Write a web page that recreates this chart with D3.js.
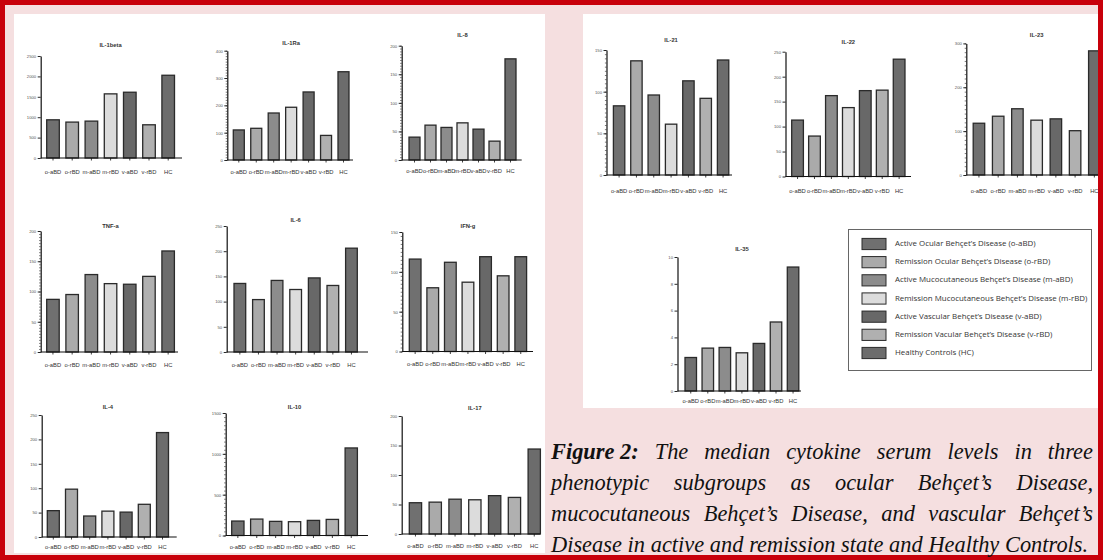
<!DOCTYPE html>
<html><head><meta charset="utf-8">
<script src="https://cdn.jsdelivr.net/npm/d3@7"></script>
<style>body{margin:0;background:#f5dfe0;} svg{display:block}</style>
</head><body><svg id="c" width="1103" height="560"></svg>
<script>
// ---------------- DATA ----------------
const categories = ["o-aBD","o-rBD","m-aBD","m-rBD","v-aBD","v-rBD","HC"];
const legendLabels = [
  "Active Ocular Behçet’s Disease (o-aBD)",
  "Remission Ocular Behçet’s Disease (o-rBD)",
  "Active Mucocutaneous Behçet’s Disease (m-aBD)",
  "Remission Mucocutaneous Behçet’s Disease (m-rBD)",
  "Active Vascular Behçet’s Disease (v-aBD)",
  "Remission Vacular Behçet’s Disease (v-rBD)",
  "Healthy Controls (HC)"
];
const titles = ["IL-1beta","IL-1Ra","IL-8","TNF-a","IL-6","IFN-g","IL-4","IL-10","IL-17","IL-21","IL-22","IL-23","IL-35"];

const il1beta = [936, 880, 904, 1572, 1612, 814, 2028];
const il1ra   = [110, 116, 172, 193, 249, 90, 323];
const il8     = [40, 61, 57, 65, 54, 33, 177];
const tnfa    = [87, 95, 128, 113, 112, 125, 167];
const il6     = [136, 104, 142, 124, 147, 132, 206];
const ifng    = [116, 80, 112, 87, 119, 95, 119];
const il4     = [54, 98, 43, 53, 51, 67, 214];
const il10    = [177, 201, 173, 169, 185, 197, 1072];
const il17    = [53, 54, 59, 58, 65, 62, 144];
const il21    = [83, 137, 96, 61, 113, 92, 138];
const il22    = [113, 81, 162, 138, 172, 173, 235];
const il23    = [118, 134, 151, 125, 128, 101, 283];
const il35    = [2.5, 3.2, 3.25, 2.85, 3.55, 5.15, 9.25];

const il1betaTicks = [0, 500, 1000, 1500, 2000, 2500];
const il1raTicks   = [0, 100, 200, 300, 400];
const il8Ticks     = [0, 50, 100, 150, 200];
const tnfaTicks    = [0, 50, 100, 150, 200];
const il6Ticks     = [0, 50, 100, 150, 200, 250];
const ifngTicks    = [0, 50, 100, 150];
const il4Ticks     = [0, 50, 100, 150, 200, 250];
const il10Ticks    = [0, 500, 1000, 1500];
const il17Ticks    = [0, 50, 100, 150, 200];
const il21Ticks    = [0, 50, 100, 150];
const il22Ticks    = [0, 50, 100, 150, 200, 250];
const il23Ticks    = [0, 100, 200, 300];
const il35Ticks    = [0, 2, 4, 6, 8, 10];

const captionBold = "Figure 2:";
const captionLines = [
  "The median cytokine serum levels in three",
  "phenotypic subgroups as ocular Behçet’s Disease,",
  "mucocutaneous Behçet’s Disease, and vascular Behçet’s",
  "Disease in active and remission state and Healthy Controls."
];

// ---------------- STYLE / LAYOUT ----------------
const fills = ["#707070","#aaaaaa","#8c8c8c","#dcdcdc","#686868","#b0b0b0","#6c6c6c"];
const values = [il1beta, il1ra, il8, tnfa, il6, ifng, il4, il10, il17, il21, il22, il23, il35];
const ticks = [il1betaTicks, il1raTicks, il8Ticks, tnfaTicks, il6Ticks, ifngTicks, il4Ticks, il10Ticks, il17Ticks, il21Ticks, il22Ticks, il23Ticks, il35Ticks];
// axisX, yTop, yBot, barStart, step, width, axisEnd, titleY, labelY, minor per major
const layouts = [
  [40.7, 56, 158, 46.7, 19.2, 12.6, 182, 45, 172, 0],
  [227.3, 50.7, 160, 233.3, 17.45, 11, 353, 43.3, 172.3, 10],
  [401.7, 45.7, 160, 409, 16, 11, 521.7, 35, 171.7, 10],
  [40.7, 231, 352, 46.7, 19.2, 12.5, 178, 226, 365, 10],
  [226.7, 226, 352, 234, 18.6, 11.7, 368, 220, 365.5, 0],
  [402.3, 232, 351.5, 409.3, 17.6, 11.7, 533, 226, 364.8, 10],
  [41.7, 415, 537, 47.3, 18.2, 12, 176.7, 407, 547, 0],
  [225.7, 413, 535.5, 231.7, 18.9, 12.3, 368, 407, 547, 10],
  [401.7, 416, 534, 409.3, 19.8, 12.3, 540, 408, 546.5, 0],
  [606.5, 50, 175, 613.4, 17.33, 11.4, 732, 40, 191, 10],
  [785.5, 51.7, 176.5, 791.7, 16.93, 11.7, 911, 42.4, 191, 0],
  [966.3, 43.4, 175, 973.2, 19.23, 11.5, 1100, 35.5, 191, 10],
  [677.5, 257, 391, 685, 17.05, 11.5, 801, 249, 401.5, 0]
];

const svg = d3.select("#c");
const FONT = "'Liberation Sans', Arial, sans-serif";

svg.append("rect").attr("x",0).attr("y",0).attr("width",1103).attr("height",560).attr("fill","#f5dfe0");
svg.append("rect").attr("x",14).attr("y",14).attr("width",531).attr("height",539).attr("fill","#fff");
svg.append("rect").attr("x",583).attr("y",14).attr("width",517).attr("height",394).attr("fill","#fff");

values.forEach((vals, i) => {
  const [ax, yTop, yBot, barStart, step, w, axEnd, titleY, labelY, minorN] = layouts[i];
  const tk = ticks[i];
  const max = tk[tk.length - 1];
  const y = d3.scaleLinear().domain([0, max]).range([yBot, yTop]);
  const p = 1 - w / step;
  const r0 = barStart - p * step;
  const x = d3.scaleBand().domain(categories).range([r0, r0 + (7 + p) * step]).paddingInner(p).paddingOuter(p);
  const g = svg.append("g");

  if (minorN > 0) {
    const ms = (tk[1] - tk[0]) / minorN;
    const minor = d3.range(0, max + ms / 2, ms);
    g.append("g").attr("transform", `translate(${ax},0)`)
      .call(d3.axisLeft(y).tickValues(minor).tickSize(1.6).tickFormat(""))
      .call(s => s.select(".domain").remove())
      .call(s => s.selectAll("line").attr("stroke","#222").attr("stroke-width",0.6));
  }
  g.append("g").attr("transform", `translate(${ax},0)`)
    .call(d3.axisLeft(y).tickValues(tk).tickSize(3).tickPadding(1.5).tickSizeOuter(0).tickFormat(d3.format("d")))
    .call(s => s.select(".domain").attr("stroke","#111").attr("stroke-width",1.2))
    .call(s => s.selectAll("line").attr("stroke","#111").attr("stroke-width",0.9))
    .call(s => s.selectAll("text").attr("font-size",4.2).attr("font-family",FONT).attr("fill","#555"));

  g.selectAll("rect.bar").data(vals).join("rect")
    .attr("x", (d, j) => x(categories[j]))
    .attr("y", d => y(d))
    .attr("width", x.bandwidth())
    .attr("height", d => yBot - y(d))
    .attr("fill", (d, j) => fills[j])
    .attr("stroke", "#2a2a2a").attr("stroke-width", 1.3);

  g.append("line").attr("x1", ax).attr("x2", axEnd).attr("y1", yBot).attr("y2", yBot)
    .attr("stroke","#111").attr("stroke-width",1.2);
  g.append("g").attr("transform", `translate(0,${yBot})`)
    .call(d3.axisBottom(x).tickSize(2.5).tickFormat(""))
    .call(s => s.select(".domain").remove())
    .call(s => s.selectAll("line").attr("stroke","#111").attr("stroke-width",0.8));
  g.selectAll("text.cat").data(categories).join("text")
    .attr("x", d => x(d) + x.bandwidth() / 2).attr("y", labelY)
    .attr("text-anchor","middle").attr("dominant-baseline","middle")
    .attr("font-size",5.8).attr("font-family",FONT).attr("fill","#333").text(d => d);

  const cx = (x(categories[0]) + x(categories[6]) + x.bandwidth()) / 2;
  g.append("text").attr("x", cx).attr("y", titleY).attr("text-anchor","middle")
    .attr("dominant-baseline","middle").attr("font-size",5.8).attr("font-weight","bold")
    .attr("font-family",FONT).attr("fill","#333").text(titles[i]);
});

// frame on top
svg.append("rect").attr("x",2.5).attr("y",2.5).attr("width",1098).attr("height",555)
  .attr("fill","none").attr("stroke","#c8000a").attr("stroke-width",5);

// legend
const lg = svg.append("g");
lg.append("rect").attr("x",848.5).attr("y",229.5).attr("width",243).attr("height",141)
  .attr("fill","#fff").attr("stroke","#666").attr("stroke-width",1);
const ly = d3.scalePoint().domain(legendLabels).range([244, 353]);
lg.selectAll("rect.sw").data(legendLabels).join("rect")
  .attr("x",862).attr("y", d => ly(d) - 5.6).attr("width",24).attr("height",11.2)
  .attr("fill",(d,j)=>fills[j]).attr("stroke","#2a2a2a").attr("stroke-width",1);
lg.selectAll("text.lt").data(legendLabels).join("text")
  .attr("x",895).attr("y", d => ly(d)).attr("dominant-baseline","middle")
  .attr("font-size",7.9).attr("font-family","'Open Sans', 'Noto Sans', sans-serif").attr("fill","#333")
  .text(d => d);

// caption (justified)
const capX0 = 551, capX1 = 1093, capY0 = 459, capDy = 31;
const capFont = "'Liberation Serif', 'Times New Roman', serif";
captionLines.forEach((line, li) => {
  const words = line.split(" ");
  const items = [];
  if (li === 0) items.push({t: captionBold, bold: true});
  words.forEach(wd => items.push({t: wd, bold: false}));
  const tg = svg.append("g");
  const nodes = items.map(it => tg.append("text").attr("y", capY0 + li * capDy)
    .attr("font-family", capFont).attr("font-size", 22.4).attr("font-style","italic")
    .attr("font-weight", it.bold ? "bold" : "normal").attr("fill","#111").text(it.t));
  const widths = nodes.map(n => n.node().getComputedTextLength());
  const total = d3.sum(widths);
  const justify = li < captionLines.length - 1;
  const gap = justify ? (capX1 - capX0 - total) / (items.length - 1) : 5.7;
  let cx = capX0;
  nodes.forEach((n, k) => { n.attr("x", cx); cx += widths[k] + gap; });
});
</script></body></html>
